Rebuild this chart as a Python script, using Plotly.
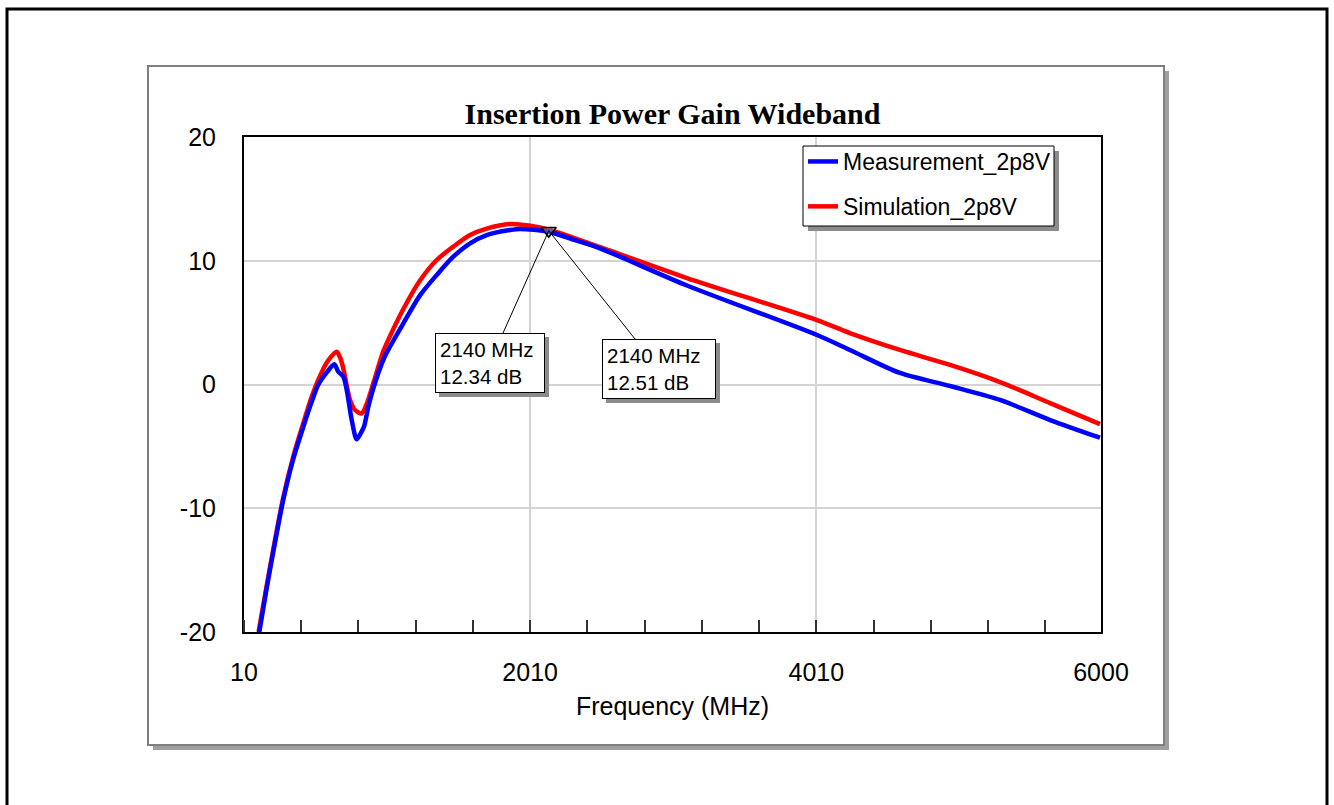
import plotly.graph_objects as go

# Insertion power gain, wideband sweep (frequency in MHz, gain in dB)
meas_freq = [117, 168, 215, 285, 355, 420, 480, 530, 590, 641, 669, 704, 728, 763, 798,
             826, 849, 879, 914, 984, 1030, 1124, 1240, 1357, 1473, 1590, 1706, 1869,
             1940, 2140, 2300, 2498, 3106, 4015, 4245, 4595, 4945, 5294, 5644, 5993]
meas_gain = [-20.0, -16.5, -13.5, -9.3, -6.0, -3.6, -1.5, 0.0, 1.0, 1.63, 1.03, 0.63,
             -0.44, -2.87, -4.43, -3.94, -3.4, -1.8, -0.3, 2.0, 3.05, 4.94, 7.2, 8.85,
             10.33, 11.41, 12.08, 12.48, 12.57, 12.34, 11.75, 11.0, 8.0, 4.0, 2.79, 0.93,
             -0.12, -1.25, -2.87, -4.3]

sim_freq = [112, 165, 215, 285, 355, 420, 480, 530, 590, 658, 681, 702, 751, 786, 833,
            870, 914, 984, 1030, 1124, 1240, 1357, 1473, 1590, 1706, 1869, 2000, 2140,
            2498, 3106, 4015, 4245, 4595, 4945, 5294, 5644, 5993]
sim_gain = [-20.0, -16.5, -13.3, -9.1, -5.8, -3.3, -1.1, 0.4, 1.8, 2.65, 2.2, 1.4, -1.25,
            -2.06, -2.33, -1.5, 0.1, 2.7, 3.9, 6.1, 8.4, 10.06, 11.14, 12.08, 12.6,
            12.97, 12.85, 12.51, 11.1, 8.6, 5.2, 4.16, 2.79, 1.58, 0.2, -1.5, -3.2]

marker_freq = 2140
meas_marker = meas_gain[meas_freq.index(marker_freq)]
sim_marker = sim_gain[sim_freq.index(marker_freq)]

x_ticks = [10, 2010, 4010, 6000]
y_ticks = [-20, -10, 0, 10, 20]

# figure geometry in pixels
W, H = 1334, 805
PL, PR, PT, PB = 244, 1101, 137, 632


def px(p):
    return (p - PL) / (PR - PL)


def py(p):
    return (PB - p) / (PB - PT)


ARIAL = "Arial, Liberation Sans, sans-serif"

fig = go.Figure()

fig.add_trace(go.Scatter(
    x=sim_freq, y=sim_gain, mode="lines", name="Simulation_2p8V",
    line=dict(color="#ff0000", width=4.5, shape="spline", smoothing=0.8),
    legendrank=2, legendgroup="sim", hoverinfo="x+y"))
fig.add_trace(go.Scatter(
    x=meas_freq, y=meas_gain, mode="lines", name="Measurement_2p8V",
    line=dict(color="#0000ff", width=4.5, shape="spline", smoothing=0.8),
    legendrank=1, legendgroup="meas", hoverinfo="x+y"))
fig.add_trace(go.Scatter(
    x=[marker_freq], y=[(meas_marker + sim_marker) / 2], mode="markers", showlegend=False,
    marker=dict(symbol="triangle-down", size=13, color="rgba(140,140,140,0.55)",
                line=dict(color="#000000", width=1.5)),
    hoverinfo="skip"))

shapes = [
    # outer frame
    dict(type="rect", xref="paper", yref="paper", x0=px(7), x1=px(1327), y0=py(9), y1=py(820),
         line=dict(color="#000000", width=3), fillcolor="rgba(0,0,0,0)", layer="below"),
    # chart panel shadow and panel
    dict(type="rect", xref="paper", yref="paper", x0=px(153), x1=px(1169), y0=py(71), y1=py(750),
         line=dict(width=0), fillcolor="#a0a0a0", layer="below"),
    dict(type="rect", xref="paper", yref="paper", x0=px(148), x1=px(1164), y0=py(66), y1=py(745),
         line=dict(color="#808080", width=2), fillcolor="#ffffff", layer="below"),
    # legend box with drop shadow
    dict(type="rect", xref="paper", yref="paper", x0=px(808), x1=px(1059), y0=py(151), y1=py(231),
         line=dict(width=0), fillcolor="#8c8c8c", layer="above"),
    dict(type="rect", xref="paper", yref="paper", x0=px(803), x1=px(1054), y0=py(146), y1=py(226),
         line=dict(color="#000000", width=1), fillcolor="#ffffff", layer="above"),
]

label_font = dict(family=ARIAL, size=20.5, color="#000000")
annotations = []
for val, ax, ay, wd in [(meas_marker, -59, 132, 100), (sim_marker, 110, 138, 104)]:
    text = f"{marker_freq} MHz<br>{val:.2f} dB"
    common = dict(x=marker_freq, y=(meas_marker + sim_marker) / 2, xref="x", yref="y",
                  showarrow=True, ax=ax, ay=ay, arrowhead=0, arrowwidth=1,
                  align="left", width=wd, height=50, borderpad=4, borderwidth=1)
    # drop shadow box behind the label
    annotations.append(dict(common, text=" ", xshift=4, yshift=-4, bgcolor="#8c8c8c",
                            bordercolor="#8c8c8c", arrowcolor="rgba(0,0,0,0)", font=label_font))
    annotations.append(dict(common, text=text, bgcolor="#ffffff", bordercolor="#000000",
                            arrowcolor="#000000", font=label_font))

fig.update_layout(
    width=W, height=H, autosize=False,
    margin=dict(l=PL, r=W - PR, t=PT, b=H - PB, pad=0),
    paper_bgcolor="#ffffff", plot_bgcolor="#ffffff",
    font=dict(family=ARIAL, size=25, color="#000000"),
    title=dict(text="<b>Insertion Power Gain Wideband</b>",
               font=dict(family="Liberation Serif, Times New Roman, serif", size=30, color="#000000"),
               x=0.5, xref="paper", xanchor="center", y=1 - 113 / H, yref="container", yanchor="middle"),
    showlegend=True,
    legend=dict(x=px(803), y=py(140), xanchor="left", yanchor="top",
                bgcolor="rgba(0,0,0,0)", borderwidth=0,
                font=dict(family=ARIAL, size=23, color="#000000"),
                traceorder="grouped", tracegroupgap=12),
    xaxis=dict(range=[10, 6000], tickmode="array", tickvals=x_ticks,
               ticktext=[str(v) for v in x_ticks], ticks="", showgrid=True,
               gridcolor="#d4d4d4", gridwidth=1.5, zeroline=False,
               showline=True, mirror=True, linecolor="#000000", linewidth=2,
               ticklabelstandoff=17,
               minor=dict(ticks="inside", ticklen=12, tickwidth=1.5, tickcolor="#333333",
                          tick0=10, dtick=400, showgrid=False),
               title=dict(text="Frequency (MHz)", standoff=12,
                          font=dict(family=ARIAL, size=25))),
    yaxis=dict(range=[-20, 20], tickmode="array", tickvals=y_ticks,
               ticktext=[str(v) for v in y_ticks], ticks="",
               showgrid=True, gridcolor="#d4d4d4", gridwidth=1.5, zeroline=False,
               showline=True, mirror=True, linecolor="#000000", linewidth=2,
               ticklabelstandoff=21),
    shapes=shapes,
    annotations=annotations,
)

fig.write_html("out.html")
